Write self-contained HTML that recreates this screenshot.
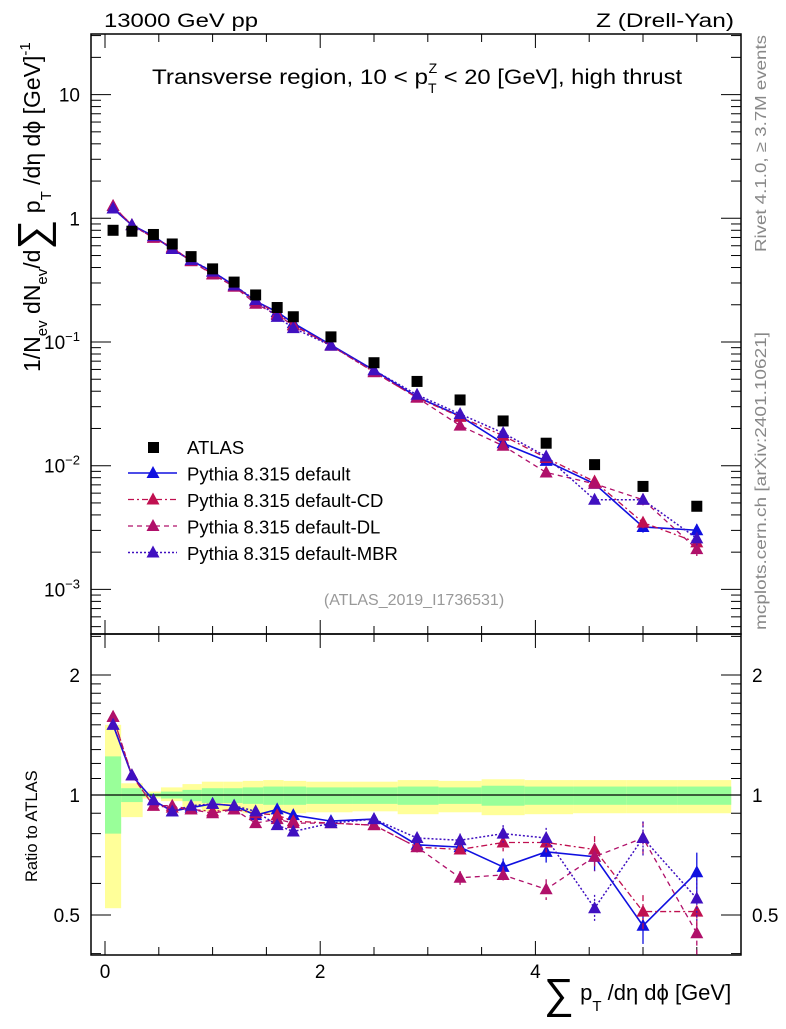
<!DOCTYPE html>
<html><head><meta charset="utf-8"><style>
body{margin:0;background:#fff;}
svg text{font-family:"Liberation Sans",sans-serif;}
</style></head><body>
<svg id="c" width="786" height="1024" xmlns="http://www.w3.org/2000/svg"></svg>
<script>
const xCenters=[0.075,0.25,0.45,0.625,0.8,1.0,1.2,1.4,1.6,1.75,2.1,2.5,2.9,3.3,3.7,4.1,4.55,5.0,5.5];
const binEdges=[0,0.15,0.35,0.52,0.72,0.9,1.1,1.28,1.47,1.66,1.87,2.3,2.72,3.1,3.5,3.9,4.35,4.85,5.32,5.82];
const atlasVals=[0.80,0.786,0.74,0.62,0.49,0.39,0.305,0.24,0.19,0.16,0.11,0.068,0.048,0.034,0.023,0.0152,0.0102,0.0068,0.0047];
const statUp=[1.25,1.04,1.01,1.02,1.03,1.04,1.04,1.045,1.05,1.05,1.045,1.045,1.05,1.045,1.055,1.05,1.05,1.05,1.05];
const statDn=[0.80,0.96,0.99,0.98,0.965,0.955,0.955,0.95,0.945,0.945,0.95,0.95,0.945,0.95,0.94,0.945,0.945,0.945,0.945];
const totUp=[1.5,1.07,1.02,1.045,1.065,1.08,1.08,1.085,1.09,1.085,1.08,1.08,1.09,1.085,1.095,1.09,1.09,1.09,1.09];
const totDn=[0.52,0.88,0.98,0.965,0.93,0.91,0.91,0.9,0.895,0.9,0.905,0.91,0.895,0.905,0.89,0.895,0.9,0.9,0.9];
const rDefault=[1.50,1.12,0.97,0.91,0.93,0.95,0.94,0.89,0.92,0.89,0.86,0.87,0.75,0.74,0.66,0.72,0.70,0.47,0.64];
const rCD=[1.57,1.12,0.94,0.93,0.92,0.91,0.92,0.90,0.89,0.86,0.85,0.84,0.74,0.73,0.76,0.76,0.73,0.51,0.51];
const rDL=[1.57,1.12,0.94,0.94,0.92,0.90,0.92,0.85,0.87,0.85,0.85,0.84,0.74,0.62,0.63,0.58,0.70,0.78,0.45];
const rMBR=[1.50,1.12,0.97,0.91,0.94,0.95,0.94,0.91,0.84,0.81,0.85,0.87,0.78,0.77,0.80,0.78,0.52,0.78,0.55];
const mcRelErr=[0.01,0.01,0.01,0.01,0.01,0.01,0.01,0.015,0.02,0.02,0.02,0.02,0.03,0.04,0.05,0.06,0.08,0.1,0.12];
const yTickMain=[10,1,0.1,0.01,0.001];
const yTickMainLbl=["10","1","10^-1","10^-2","10^-3"];
const xTickLbl=[0,2,4];
const rTicks=[2,1,0.5];

const NS="http://www.w3.org/2000/svg";
const svg=document.getElementById('c');
function el(t,a,p){const e=document.createElementNS(NS,t);for(const k in a)e.setAttribute(k,a[k]);(p||svg).appendChild(e);return e;}
const L=91,R=741,T=34,M=634,B=955;
const X=v=>105+v*107.6;
const Y=v=>218.3-Math.log10(v)*123.7;
const RY=v=>795-Math.log10(v)*398.6;
const mainClip=el('clipPath',{id:'cm'});el('rect',{x:L,y:T,width:R-L,height:M-T},mainClip);
const ratClip=el('clipPath',{id:'cr'});el('rect',{x:L,y:M,width:R-L,height:B-M},ratClip);

const bands=el('g',{'clip-path':'url(#cr)'});

for(let i=0;i<xCenters.length;i++){
  const x0=X(binEdges[i]),x1=X(binEdges[i+1]);
  const y=el('rect',{x:x0,y:RY(totUp[i]),width:x1-x0,height:RY(totDn[i])-RY(totUp[i]),fill:'#ffff99'},bands);
  
  const g=el('rect',{x:x0,y:RY(statUp[i]),width:x1-x0,height:RY(statDn[i])-RY(statUp[i]),fill:'#99ff99'},bands);
  
}
const one=el('line',{x1:L,x2:R,y1:RY(1),y2:RY(1),stroke:'#000','stroke-width':1.3});


const f1=el('rect',{x:L,y:T,width:R-L,height:M-T,fill:'none',stroke:'#000','stroke-width':1.5});

const f2=el('rect',{x:L,y:M,width:R-L,height:B-M,fill:'none',stroke:'#000','stroke-width':1.5});


for(let v=0;v<=5.8;v+=0.5){
  const big=(Math.abs(v%2)<1e-6),len=big?14:8,x=X(v);
  [[T,1],[M,-1],[M,1],[B,-1]].forEach(([y0,d])=>el('line',{x1:x,x2:x,y1:y0,y2:y0+d*len,stroke:'#000','stroke-width':1}));
}
xTickLbl.forEach(v=>{const t=el('text',{x:X(v),y:978,'font-size':19,'text-anchor':'middle'});t.textContent=v;
 });
for(let e=-4;e<=1;e++){for(let m=1;m<10;m++){const v=m*Math.pow(10,e);const y=Y(v);if(y<T||y>M)continue;
 const len=m==1?20:10;el('line',{x1:L,x2:L+len,y1:y,y2:y,stroke:'#000'});el('line',{x1:R,x2:R-len,y1:y,y2:y,stroke:'#000'});}}
yTickMain.forEach((v,i)=>{const s=yTickMainLbl[i];const t=el('text',{x:80,y:Y(v)+7,'font-size':19,'text-anchor':'end'});
 if(s.includes('^')){const [b,p]=s.split('^');t.textContent=b;const ts=el('tspan',{dy:-8,'font-size':13},t);ts.textContent=p.replace('-','\u2212');}else t.textContent=s;
 });
[0.4,0.5,0.6,0.7,0.8,0.9,1,1.1,1.2,1.3,1.4,1.5,1.6,1.7,1.8,1.9,2,2.5].forEach(v=>{const y=RY(v);if(y<M||y>B)return;
 const len=(v==0.5||v==1||v==2)?20:10;el('line',{x1:L,x2:L+len,y1:y,y2:y,stroke:'#000'});el('line',{x1:R,x2:R-len,y1:y,y2:y,stroke:'#000'});});
rTicks.forEach(v=>{[[80,'end'],[752,'start']].forEach(([x,a])=>{const t=el('text',{x:x,y:RY(v)+7,'font-size':19,'text-anchor':a});t.textContent=v;
 });});

const series=[
 {name:'pythia-default',r:rDefault,c:'#1010e0',dash:'',w:1.6},
 {name:'pythia-default-cd',r:rCD,c:'#c01050',dash:'6,3,2,3',w:1.3},
 {name:'pythia-default-dl',r:rDL,c:'#b0106a',dash:'5,4',w:1.3},
 {name:'pythia-default-mbr',r:rMBR,c:'#4010c0',dash:'2,2',w:1.5}];
function tri(x,y,c,g){return el('path',{d:`M${x},${y-7}L${x+6.5},${y+5}L${x-6.5},${y+5}Z`,fill:c},g);}
series.forEach(s=>{
 const gm=el('g',{'clip-path':'url(#cm)'});
 const gr=el('g',{'clip-path':'url(#cr)'});
 const pm=[],pr=[];
 xCenters.forEach((x,i)=>{const v=atlasVals[i]*s.r[i];pm.push(X(x)+','+Y(v));pr.push(X(x)+','+RY(s.r[i]));});
 el('polyline',{points:pm.join(' '),fill:'none',stroke:s.c,'stroke-width':s.w,'stroke-dasharray':s.dash},gm);
 el('polyline',{points:pr.join(' '),fill:'none',stroke:s.c,'stroke-width':s.w,'stroke-dasharray':s.dash},gr);
 xCenters.forEach((x,i)=>{const v=atlasVals[i]*s.r[i],e=mcRelErr[i];
  el('line',{x1:X(x),x2:X(x),y1:Y(v*(1+e)),y2:Y(v*(1-e)),stroke:s.c,'stroke-width':1.3,'stroke-dasharray':s.dash},gm);
  el('line',{x1:X(x),x2:X(x),y1:RY(s.r[i]*(1+e)),y2:RY(s.r[i]*(1-e)),stroke:s.c,'stroke-width':1.3,'stroke-dasharray':s.dash},gr);
  const a=tri(X(x),Y(v),s.c,gm);
  const b=tri(X(x),RY(s.r[i]),s.c,gr);});
});
const ga=el('g',{});
xCenters.forEach((x,i)=>{const r=el('rect',{x:X(x)-5.5,y:Y(atlasVals[i])-5.5,width:11,height:11,fill:'#000'},ga);
 });

const lg=el('g',{});
el('rect',{x:148,y:442,width:11,height:11,fill:'#000'},lg);
series.forEach((s,i)=>{const y=473+i*26.5;el('line',{x1:128,x2:177,y1:y,y2:y,stroke:s.c,'stroke-width':s.w,'stroke-dasharray':s.dash},lg);tri(153,y,s.c,lg);});
['ATLAS','Pythia 8.315 default','Pythia 8.315 default-CD','Pythia 8.315 default-DL','Pythia 8.315 default-MBR'].forEach((s,i)=>{
 const t=el('text',{x:187,y:454+i*26.5,'font-size':18.5},lg);t.textContent=s;});
</script>
<svg width="786" height="1024" style="position:absolute;left:0;top:0" xmlns="http://www.w3.org/2000/svg">
<text x="104" y="27" font-size="19" textLength="154" lengthAdjust="spacingAndGlyphs" font-family="Liberation Sans">13000 GeV pp</text>
<text x="596" y="27" font-size="19" textLength="138" lengthAdjust="spacingAndGlyphs" font-family="Liberation Sans">Z (Drell-Yan)</text>
<text x="152" y="84" font-size="21" font-family="Liberation Sans"><tspan textLength="276" lengthAdjust="spacingAndGlyphs">Transverse region, 10 &lt; p</tspan><tspan dy="9" font-size="14">T</tspan><tspan dy="-20" dx="-8" font-size="14">Z</tspan><tspan dy="11" textLength="245" lengthAdjust="spacingAndGlyphs"> &lt; 20 [GeV], high thrust</tspan></text>
<text x="414" y="605" font-size="16" fill="#999" text-anchor="middle" font-family="Liberation Sans">(ATLAS_2019_I1736531)</text>
<text transform="translate(766,252) rotate(-90)" font-size="16" textLength="217" lengthAdjust="spacingAndGlyphs" fill="#888" font-family="Liberation Sans">Rivet 4.1.0, ≥ 3.7M events</text>
<text transform="translate(766,630) rotate(-90)" font-size="16" textLength="298" lengthAdjust="spacingAndGlyphs" fill="#888" font-family="Liberation Sans">mcplots.cern.ch [arXiv:2401.10621]</text>
<text transform="translate(40,372) rotate(-90)" font-size="23" font-family="Liberation Sans">1/N<tspan dy="7" font-size="15">ev</tspan><tspan dy="-7"> dN</tspan><tspan dy="7" font-size="15">ev</tspan><tspan dy="-7">/d</tspan><tspan font-size="42" dy="7">∑</tspan><tspan dy="-7"> p</tspan><tspan dy="11" font-size="15">T</tspan><tspan dy="-11"> /dη dϕ  [GeV]</tspan><tspan dy="-10" font-size="15">-1</tspan></text>
<text transform="translate(37,882) rotate(-90)" font-size="16.5" font-family="Liberation Sans">Ratio to ATLAS</text>
<text x="544" y="1000" font-size="22" font-family="Liberation Sans"><tspan font-size="42" dy="8">∑</tspan><tspan dy="-8"> p</tspan><tspan dy="11" font-size="15">T</tspan><tspan dy="-11"> /dη dϕ [GeV]</tspan></text>
</svg>
</body></html>
